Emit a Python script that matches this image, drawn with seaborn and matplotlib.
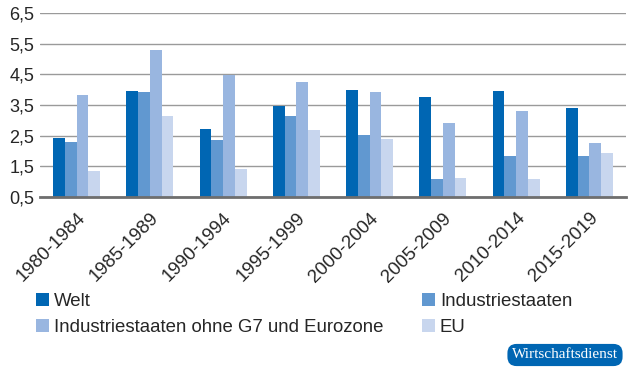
import pandas as pd
import seaborn as sns
import matplotlib.pyplot as plt

# Values
periods = ["1980-1984", "1985-1989", "1990-1994", "1995-1999",
           "2000-2004", "2005-2009", "2010-2014", "2015-2019"]
welt = [2.42, 3.97, 2.73, 3.48, 3.99, 3.76, 3.97, 3.39]
industriestaaten = [2.30, 3.93, 2.36, 3.13, 2.53, 1.08, 1.85, 1.83]
ohne_g7 = [3.84, 5.29, 4.49, 4.25, 3.93, 2.92, 3.30, 2.25]
eu = [1.36, 3.15, 1.42, 2.70, 2.38, 1.13, 1.10, 1.92]

series_names = ["Welt", "Industriestaaten",
                "Industriestaaten ohne G7 und Eurozone", "EU"]
colors = ["#0066b3", "#6198d0", "#99b6e0", "#c8d6ee"]

rows = []
for name, vals in zip(series_names, [welt, industriestaaten, ohne_g7, eu]):
    for p, v in zip(periods, vals):
        rows.append({"Zeitraum": p, "Reihe": name, "Wert": v})
df = pd.DataFrame(rows)

sns.set_style("white")
plt.rcParams['font.family'] = ['Liberation Sans', 'DejaVu Sans']

fig = plt.figure(figsize=(6.3, 3.72), dpi=100)
ax = fig.add_axes([40 / 630, 1 - 197 / 372, 586 / 630, 184 / 372])

sns.barplot(data=df, x="Zeitraum", y="Wert", hue="Reihe",
            order=periods, hue_order=series_names, palette=colors,
            width=0.64, gap=0, saturation=1, linewidth=0, ax=ax)

ax.set_ylim(0.5, 6.5)
ax.set_xlim(-0.5, 7.5)
ax.set_yticks([0.5, 1.5, 2.5, 3.5, 4.5, 5.5, 6.5])
ax.set_yticklabels(["0,5", "1,5", "2,5", "3,5", "4,5", "5,5", "6,5"], fontsize=13)
ax.yaxis.grid(True, color="#9a9a9a", linewidth=1)
ax.set_axisbelow(True)
ax.set_xlabel("")
ax.set_ylabel("")
for s in ["top", "right", "left"]:
    ax.spines[s].set_visible(False)
ax.spines["bottom"].set_color("#6e6e6e")
ax.spines["bottom"].set_linewidth(2)
ax.tick_params(axis="both", length=0)
ax.tick_params(axis="y", pad=4)
ax.tick_params(axis="x", pad=9)
plt.setp(ax.get_xticklabels(), rotation=45, ha="right",
         rotation_mode="anchor", fontsize=13.5)

handles, labels = ax.get_legend_handles_labels()
ax.get_legend().remove()
idx = [0, 2, 1, 3]
fig.legend([handles[i] for i in idx], [labels[i] for i in idx],
           ncol=2, loc="upper left", bbox_to_anchor=(36 / 630, 1 - 293 / 372),
           frameon=False, fontsize=13.4, handlelength=0.7, handleheight=0.7,
           handletextpad=0.25, columnspacing=2.1, labelspacing=0.48,
           borderaxespad=0, borderpad=0)

fig.text(565 / 630, 1 - 355 / 372, "Wirtschaftsdienst", color="white",
         ha="center", va="center", fontsize=11, family="Liberation Serif",
         bbox=dict(boxstyle="round,pad=0.3,rounding_size=0.6",
                   facecolor="#0066b3", edgecolor="none"))

fig.savefig("out.png", dpi=100)
